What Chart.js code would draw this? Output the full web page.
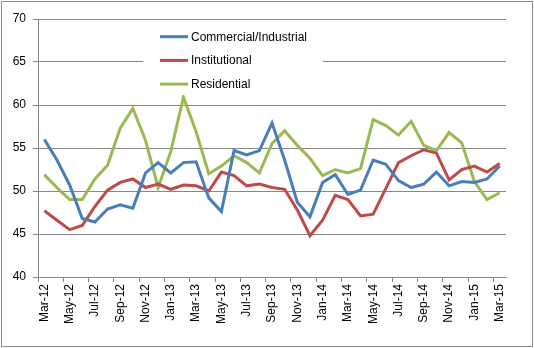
<!DOCTYPE html>
<html>
<head>
<meta charset="utf-8">
<script src="https://cdn.jsdelivr.net/npm/chart.js@4"></script>
<style>
  html, body { margin: 0; padding: 0; background: #fff; }
  #wrap { width: 534px; height: 348px; }
</style>
</head>
<body>
<div id="wrap"><canvas id="myChart" width="534" height="348"></canvas></div>
<script>
const months = [
    'Mar-12','Apr-12','May-12','Jun-12','Jul-12','Aug-12','Sep-12','Oct-12','Nov-12','Dec-12',
    'Jan-13','Feb-13','Mar-13','Apr-13','May-13','Jun-13','Jul-13','Aug-13','Sep-13','Oct-13','Nov-13','Dec-13',
    'Jan-14','Feb-14','Mar-14','Apr-14','May-14','Jun-14','Jul-14','Aug-14','Sep-14','Oct-14','Nov-14','Dec-14',
    'Jan-15','Feb-15','Mar-15'
];
const commercial = [
    56.0, 53.6, 50.7, 46.8, 46.4, 47.9, 48.4, 48.0, 52.1, 53.3,
    52.1, 53.3, 53.4, 49.2, 47.6, 54.7, 54.2, 54.7, 57.9, 53.6, 48.7, 47.0,
    51.0, 51.9, 49.6, 50.1, 53.6, 53.1, 51.2, 50.4, 50.8, 52.2, 50.6, 51.1,
    51.0, 51.4, 52.9
];
const institutional = [
    47.7, 46.6, 45.5, 46.0, 48.2, 50.1, 51.0, 51.4, 50.4, 50.8,
    50.2, 50.7, 50.6, 50.0, 52.2, 51.8, 50.6, 50.8, 50.4, 50.2, 47.8, 44.8,
    46.6, 49.5, 49.0, 47.1, 47.3, 50.3, 53.3, 54.1, 54.8, 54.4, 51.3, 52.5,
    52.9, 52.2, 53.2
];
const residential = [
    51.9, 50.4, 49.0, 49.0, 51.4, 53.0, 57.3, 59.6, 55.9, 50.4,
    54.6, 60.9, 56.9, 52.0, 52.9, 54.1, 53.3, 52.1, 55.5, 57.0, 55.3, 53.8,
    51.8, 52.5, 52.1, 52.6, 58.3, 57.6, 56.5, 58.1, 55.3, 54.7, 56.8, 55.6,
    51.1, 49.0, 49.8
];

const gridGray = '#878787';

// white frame with a thin grey border round the whole chart
const frame = {
    id: 'frame',
    beforeDraw(chart) {
        const c = chart.ctx;
        c.save();
        c.fillStyle = '#fff';
        c.fillRect(0, 0, chart.width, chart.height);
        c.strokeStyle = '#8c8c8c';
        c.lineWidth = 1;
        c.strokeRect(1.5, 1.5, chart.width - 3, chart.height - 3);
        c.restore();
    }
};

// legend drawn inside the plot area, on a white box
const innerLegend = {
    id: 'innerLegend',
    afterDatasetsDraw(chart) {
        const c = chart.ctx;
        c.save();
        c.fillStyle = '#fff';
        c.fillRect(143, 25, 180, 70);
        c.font = '12px "Liberation Sans", Arial, sans-serif';
        c.textBaseline = 'middle';
        chart.data.datasets.forEach((ds, i) => {
            const y = 36.7 + i * 23.7;
            c.strokeStyle = ds.borderColor;
            c.lineWidth = 3;
            c.beginPath();
            c.moveTo(160, y);
            c.lineTo(188, y);
            c.stroke();
            c.fillStyle = '#000';
            c.fillText(ds.label, 191, y + 0.5);
        });
        c.restore();
    }
};

const ctx = document.getElementById('myChart');
const myChart = new Chart(ctx, {
    type: 'line',
    data: {
        labels: months,
        datasets: [
            { label: 'Commercial/Industrial', data: commercial, borderColor: '#4a7ebb' },
            { label: 'Institutional', data: institutional, borderColor: '#be4b48' },
            { label: 'Residential', data: residential, borderColor: '#98b954' }
        ]
    },
    options: {
        responsive: false,
        animation: false,
        devicePixelRatio: 1,
        layout: { padding: { left: 0, top: 19, right: 28, bottom: 10 } },
        elements: {
            point: { radius: 0 },
            line: { borderWidth: 3, tension: 0, fill: false }
        },
        plugins: {
            legend: { display: false },
            tooltip: { enabled: false }
        },
        scales: {
            y: {
                min: 40,
                max: 70,
                afterFit(scale) { scale.width = 38; },
                ticks: {
                    stepSize: 5,
                    padding: 7,
                    color: '#000',
                    font: { family: '"Liberation Sans", Arial, sans-serif', size: 12 }
                },
                grid: { color: gridGray, tickLength: 5, tickColor: gridGray },
                border: { color: gridGray }
            },
            x: {
                offset: true,
                afterFit(scale) { scale.height = 61; },
                ticks: {
                    autoSkip: false,
                    maxRotation: 90,
                    minRotation: 90,
                    padding: 2,
                    color: '#000',
                    font: { family: '"Liberation Sans", Arial, sans-serif', size: 12 },
                    callback: function (value, index) {
                        return index % 2 === 0 ? this.getLabelForValue(value) : '';
                    }
                },
                grid: {
                    offset: true,
                    drawOnChartArea: false,
                    tickLength: 5,
                    tickColor: (c) => c.index % 2 === 0 ? gridGray : 'rgba(0,0,0,0)'
                },
                border: { color: gridGray }
            }
        }
    },
    plugins: [frame, innerLegend]
});
</script>
</body>
</html>
